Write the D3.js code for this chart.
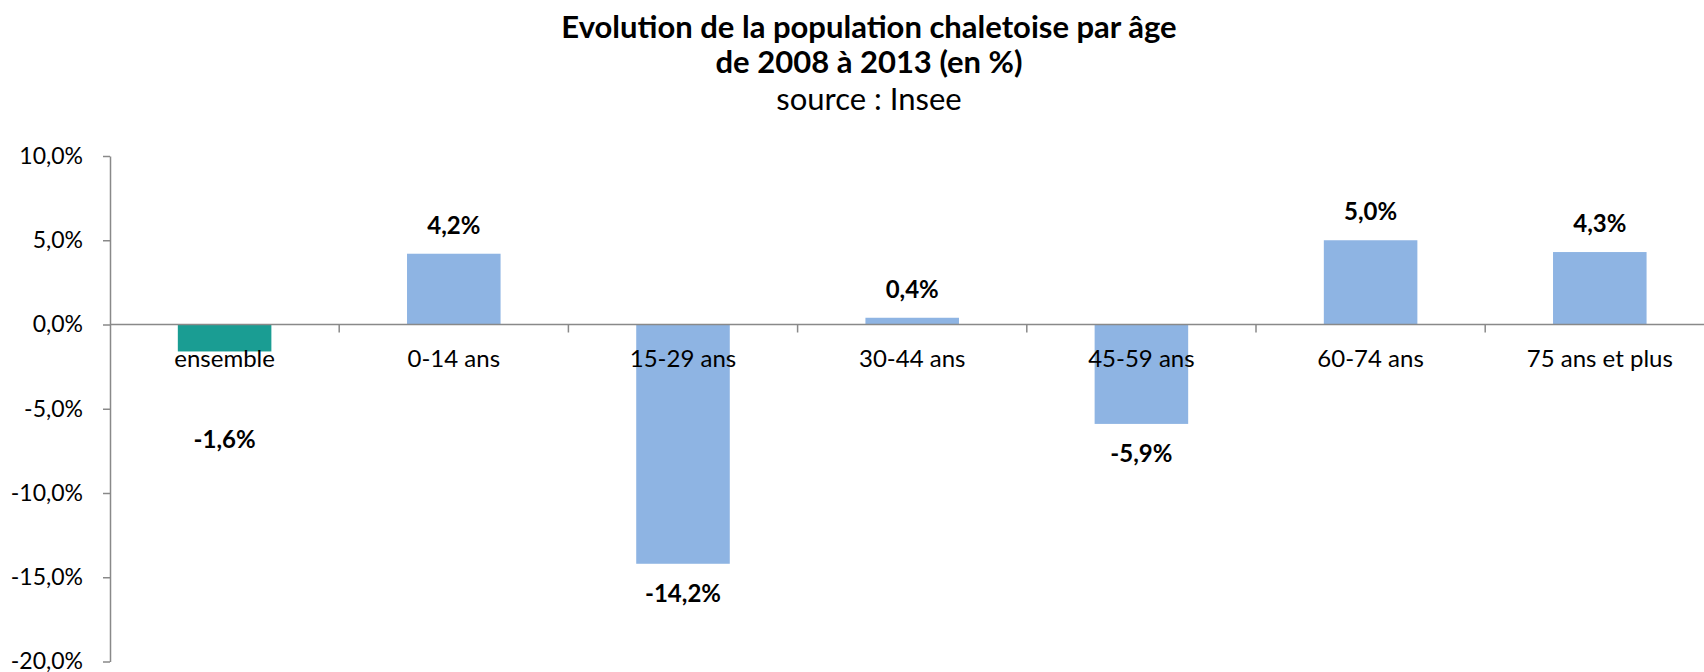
<!DOCTYPE html>
<html>
<head>
<meta charset="utf-8">
<script src="https://cdn.jsdelivr.net/npm/d3@7"></script>
<style>
  body { margin: 0; background: #fff; }
  svg { display: block; font-family: Lato, "Open Sans", sans-serif; }
</style>
</head>
<body>
<div id="chart"></div>
<script>
const categories = ["ensemble", "0-14 ans", "15-29 ans", "30-44 ans", "45-59 ans", "60-74 ans", "75 ans et plus"];
const values = [-1.6, 4.2, -14.2, 0.4, -5.9, 5.0, 4.3];
const yTicks = [10, 5, 0, -5, -10, -15, -20];
const titleLines = ["Evolution de la population chaletoise par âge", "de 2008 à 2013 (en %)"];
const subtitle = "source : Insee";

const width = 1704, height = 672;
const axisColor = "#898989";
const fmt = v => v.toFixed(1).replace(".", ",") + "%";

const svg = d3.select("#chart")
  .append("svg")
    .attr("width", width)
    .attr("height", height);

// the plot area runs a bit past the right edge, like the original
const x = d3.scaleBand()
  .domain(categories)
  .range([110, 1714.4]);

const y = d3.scaleLinear()
  .domain([-20, 10])
  .range([661.5, 156]);

const barWidth = x.bandwidth() / 2.45;

// title
svg.selectAll("text.title")
  .data(titleLines)
  .enter()
  .append("text")
    .attr("class", "title")
    .attr("x", 869)
    .attr("y", (d, i) => 38 + i * 35)
    .attr("text-anchor", "middle")
    .attr("font-size", 31)
    .attr("font-weight", "bold")
    .attr("fill", "#000")
    .text(d => d);

svg.append("text")
  .attr("x", 869)
  .attr("y", 110)
  .attr("text-anchor", "middle")
  .attr("font-size", 31)
  .attr("fill", "#000")
  .text(subtitle);

// y axis
const yAxis = svg.append("g")
  .attr("transform", "translate(110,0)")
  .call(d3.axisLeft(y)
    .tickValues(yTicks)
    .tickSize(7)
    .tickSizeOuter(0)
    .tickPadding(20)
    .tickFormat(fmt));

yAxis.select(".domain").attr("stroke", axisColor).attr("stroke-width", 1.5);
yAxis.selectAll(".tick line").attr("stroke", axisColor).attr("stroke-width", 1.5);
yAxis.selectAll(".tick text")
  .attr("font-size", 23)
  .attr("font-family", "Lato, sans-serif")
  .attr("fill", "#000");

// bars
svg.selectAll("rect.bar")
  .data(values)
  .enter()
  .append("rect")
    .attr("class", "bar")
    .attr("x", (d, i) => x(categories[i]) + (x.bandwidth() - barWidth) / 2)
    .attr("y", d => y(Math.max(d, 0)))
    .attr("width", barWidth)
    .attr("height", d => Math.abs(y(d) - y(0)))
    .attr("fill", (d, i) => i === 0 ? "#1A9D93" : "#8EB4E3");

// x axis at zero
svg.append("line")
  .attr("x1", 110)
  .attr("x2", x.range()[1])
  .attr("y1", y(0))
  .attr("y2", y(0))
  .attr("stroke", axisColor)
  .attr("stroke-width", 1.5);

svg.selectAll("line.xtick")
  .data(categories.slice(1))
  .enter()
  .append("line")
    .attr("class", "xtick")
    .attr("x1", d => x(d))
    .attr("x2", d => x(d))
    .attr("y1", y(0))
    .attr("y2", y(0) + 8)
    .attr("stroke", axisColor)
    .attr("stroke-width", 1.5);

svg.selectAll("text.cat")
  .data(categories)
  .enter()
  .append("text")
    .attr("class", "cat")
    .attr("x", d => x(d) + x.bandwidth() / 2)
    .attr("y", y(0) + 42)
    .attr("text-anchor", "middle")
    .attr("font-size", 24)
    .attr("fill", "#000")
    .text(d => d);

// data labels (negative ones kept clear of the category names)
svg.selectAll("text.value")
  .data(values)
  .enter()
  .append("text")
    .attr("class", "value")
    .attr("x", (d, i) => x(categories[i]) + x.bandwidth() / 2)
    .attr("y", d => d >= 0 ? y(d) - 20 : Math.max(y(d) + 38, y(0) + 123))
    .attr("text-anchor", "middle")
    .attr("font-size", 24)
    .attr("font-weight", "bold")
    .attr("fill", "#000")
    .text(fmt);
</script>
</body>
</html>
